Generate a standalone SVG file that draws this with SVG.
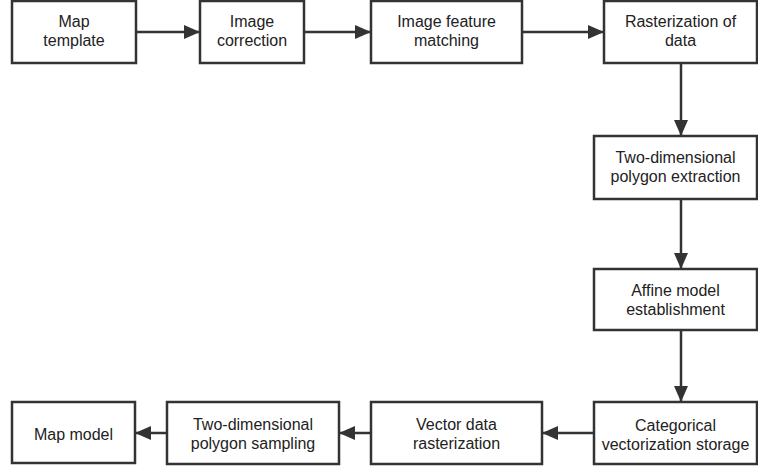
<svg xmlns="http://www.w3.org/2000/svg" width="758" height="467" viewBox="0 0 758 467">
<style>
.box{fill:#fff;stroke:#333;stroke-width:2.5}
.t{font-family:"Liberation Sans",Arial,sans-serif;font-size:16px;fill:#222;text-anchor:middle}
.c{stroke:#333;stroke-width:2.5;fill:none;marker-end:url(#ah)}
</style>
<defs>
<marker id="ah" markerUnits="userSpaceOnUse" markerWidth="18" markerHeight="16" refX="16" refY="7" orient="auto">
<path d="M0,0 L16,7 L0,14 Z" fill="#333"/>
</marker>
</defs>
<rect width="758" height="467" fill="#fff"/>
<g id="connectors">
<line class="c" x1="136" y1="32" x2="200" y2="32"/>
<line class="c" x1="304" y1="32" x2="371" y2="32"/>
<line class="c" x1="522" y1="32" x2="604" y2="32"/>
<line class="c" x1="681" y1="63" x2="681" y2="136"/>
<line class="c" x1="681" y1="199" x2="681" y2="269"/>
<line class="c" x1="681" y1="330" x2="681" y2="402"/>
<line class="c" x1="594" y1="433" x2="542" y2="433"/>
<line class="c" x1="371" y1="433" x2="339" y2="433"/>
<line class="c" x1="167" y1="433" x2="135" y2="433"/>
</g>
<g id="n1"><rect class="box" x="12" y="1" width="124" height="62"/><text class="t" x="74" y="27">Map</text><text class="t" x="74" y="46">template</text></g>
<g id="n2"><rect class="box" x="200" y="1" width="104" height="62"/><text class="t" x="252" y="27">Image</text><text class="t" x="252" y="46">correction</text></g>
<g id="n3"><rect class="box" x="371" y="1" width="151" height="62"/><text class="t" x="446.5" y="27">Image feature</text><text class="t" x="446.5" y="46">matching</text></g>
<g id="n4"><rect class="box" x="604" y="1" width="153" height="62"/><text class="t" x="680.5" y="27">Rasterization of</text><text class="t" x="680.5" y="46">data</text></g>
<g id="n5"><rect class="box" x="594" y="136" width="163" height="63"/><text class="t" x="675.5" y="163">Two-dimensional</text><text class="t" x="675.5" y="182">polygon extraction</text></g>
<g id="n6"><rect class="box" x="594" y="269" width="163" height="61"/><text class="t" x="675.5" y="296">Affine model</text><text class="t" x="675.5" y="315">establishment</text></g>
<g id="n7"><rect class="box" x="594" y="402" width="163" height="62"/><text class="t" x="675.5" y="431">Categorical</text><text class="t" x="675.5" y="450">vectorization storage</text></g>
<g id="n8"><rect class="box" x="371" y="402" width="171" height="62"/><text class="t" x="456.5" y="430">Vector data</text><text class="t" x="456.5" y="449">rasterization</text></g>
<g id="n9"><rect class="box" x="167" y="402" width="172" height="62"/><text class="t" x="253" y="430">Two-dimensional</text><text class="t" x="253" y="449">polygon sampling</text></g>
<g id="n10"><rect class="box" x="12" y="402" width="123" height="61"/><text class="t" x="73.5" y="440">Map model</text></g>
</svg>
